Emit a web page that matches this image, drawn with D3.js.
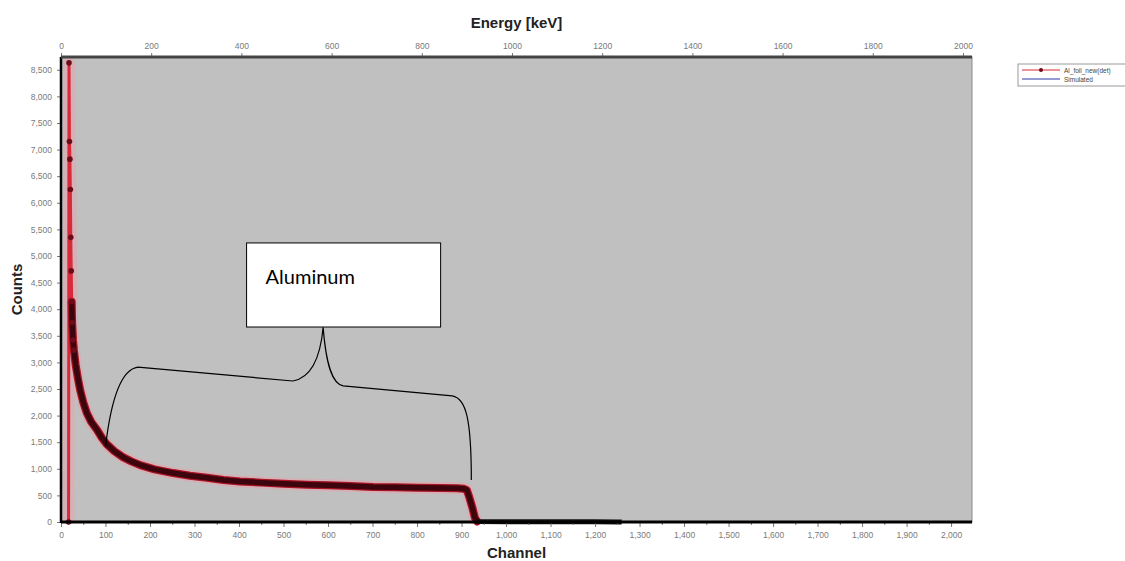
<!DOCTYPE html>
<html>
<head>
<meta charset="utf-8">
<script src="https://cdn.jsdelivr.net/npm/d3@7"></script>
<style>
  body { margin: 0; background: #fff; }
  svg { display: block; }
  .tick text { font-family: "Liberation Sans", Arial, sans-serif; font-size: 8.5px; fill: #7a7a7a; }
  .title { font-family: "Liberation Sans", Arial, sans-serif; font-weight: bold; font-size: 15px; fill: #222; }
</style>
</head>
<body>
<svg id="chart" width="1125" height="561"></svg>
<script>
var channels = [0, 17, 18, 19, 20, 21, 22, 23, 24, 25, 27, 29, 33, 38, 43, 50, 58, 68, 81, 92,
  103, 120, 139, 158, 178, 210, 252, 290, 328, 365, 402, 450, 500, 553, 600, 650, 701, 750, 800, 852,
  890, 905, 912, 918, 925, 930, 935, 940, 1000, 1100, 1200, 1250, 1260, 2047];
var counts = [0, 0, 8630, 7150, 6820, 6250, 5350, 4720, 4140, 3750, 3420, 3230, 2950, 2700, 2480, 2250, 2050, 1880, 1730, 1580,
  1460, 1330, 1220, 1140, 1070, 990, 920, 870, 830, 790, 760, 740, 720, 700, 690, 675, 660, 655, 645, 640,
  635, 625, 600, 450, 250, 80, 10, 8, 6, 5, 4, 2, 0, 0];

var channelTicks = [0, 100, 200, 300, 400, 500, 600, 700, 800, 900, 1000, 1100, 1200, 1300, 1400, 1500, 1600, 1700, 1800, 1900, 2000];
var energyTicks = [0, 200, 400, 600, 800, 1000, 1200, 1400, 1600, 1800, 2000];
var countTicks = [0, 500, 1000, 1500, 2000, 2500, 3000, 3500, 4000, 4500, 5000, 5500, 6000, 6500, 7000, 7500, 8000, 8500];

var legendNames = ['Al_foil_new(det)', 'Simulated'];
var legendColors = ['#d92a3a', '#2a3aa8'];

// annotation bracket, in [channel, counts]
var bracketPts = [[100, 1410], [173, 2910], [521, 2650], [589, 3660], [634, 2560], [879, 2370], [922, 790]];
var boxCorners = [[417, 5245], [853, 3665]];
var boxLabel = 'Aluminum';

var svg = d3.select('#chart');
var plotLeft = 61, plotRight = 972, plotTop = 57, plotBottom = 522;

var x = d3.scaleLinear().domain([0, 2047]).range([plotLeft, plotRight]);
var xE = d3.scaleLinear().domain([0, 2020]).range([plotLeft, plotRight]);
var y = d3.scaleLinear().domain([0, 8740]).range([plotBottom, plotTop]);

// plot area
svg.append('rect')
   .attr('x', plotLeft).attr('y', plotTop)
   .attr('width', plotRight - plotLeft).attr('height', plotBottom - plotTop)
   .attr('fill', '#c0c0c0')
   .attr('stroke', '#8a8a8a').attr('stroke-width', 1);

var data = channels.map(function(c, i) { return {ch: c, v: counts[i]}; });

var line = d3.line()
    .x(function(d) { return x(d.ch); })
    .y(function(d) { return y(d.v); });

// red line with its soft halo (peak and continuum only)
var signal = data.filter(function(d) { return d.ch >= 17 && d.ch <= 935; });
svg.append('path').datum(signal)
   .attr('d', line).attr('fill', 'none')
   .attr('stroke', '#e7a2ac').attr('stroke-width', 12).attr('opacity', 0.5)
   .attr('stroke-linejoin', 'round');
svg.append('path').datum(signal)
   .attr('d', line).attr('fill', 'none')
   .attr('stroke', '#d92a3a').attr('stroke-width', 3)
   .attr('stroke-linejoin', 'round');

// dense band of overlapping markers along the continuum
var dense = data.filter(function(d) { return d.ch >= 24 && d.ch <= 935; });
svg.append('path').datum(dense)
   .attr('d', line).attr('fill', 'none')
   .attr('stroke', '#a81424').attr('stroke-width', 8)
   .attr('stroke-linejoin', 'round').attr('stroke-linecap', 'round');
svg.append('path').datum(dense)
   .attr('d', line).attr('fill', 'none')
   .attr('stroke', '#3c040c').attr('stroke-width', 5.5)
   .attr('stroke-linejoin', 'round').attr('stroke-linecap', 'round');

// near-zero tail: markers pile up on the axis
var tail = data.filter(function(d) { return d.ch >= 935 && d.ch <= 1260; });
svg.append('path').datum(tail)
   .attr('d', line).attr('fill', 'none')
   .attr('stroke', '#111').attr('stroke-width', 5);

svg.append('g').selectAll('circle')
   .data(data.filter(function(d) { return d.ch >= 17 && d.ch <= 30; }))
   .enter().append('circle')
   .attr('cx', function(d) { return x(d.ch); })
   .attr('cy', function(d) { return y(d.v); })
   .attr('r', 2.8)
   .attr('fill', '#6d0c18');

// axes
svg.append('g')
   .attr('transform', 'translate(0,' + plotBottom + ')')
   .call(d3.axisBottom(x).tickValues(channelTicks).tickFormat(d3.format(',')).tickSize(5).tickPadding(5));
svg.append('g')
   .attr('transform', 'translate(0,' + plotBottom + ')')
   .call(d3.axisBottom(x).tickValues(d3.range(50, 2047, 100)).tickFormat('').tickSize(3));

svg.append('g')
   .attr('transform', 'translate(0,' + plotTop + ')')
   .call(d3.axisTop(xE).tickValues(energyTicks).tickFormat(d3.format('d')).tickSize(4).tickPadding(4));

svg.append('g')
   .attr('transform', 'translate(' + plotLeft + ',0)')
   .call(d3.axisLeft(y).tickValues(countTicks).tickFormat(d3.format(',')).tickSize(4).tickPadding(5));

svg.selectAll('.domain').remove();
svg.selectAll('.tick line').attr('stroke', '#777');

// heavy frame lines
svg.append('line').attr('x1', plotLeft).attr('x2', plotRight).attr('y1', plotBottom).attr('y2', plotBottom)
   .attr('stroke', '#000').attr('stroke-width', 3);
svg.append('line').attr('x1', plotLeft).attr('x2', plotLeft).attr('y1', plotTop).attr('y2', plotBottom + 1)
   .attr('stroke', '#000').attr('stroke-width', 2.5);
svg.append('line').attr('x1', plotLeft).attr('x2', plotRight).attr('y1', plotTop).attr('y2', plotTop)
   .attr('stroke', '#444').attr('stroke-width', 3);

// axis titles
svg.append('text').attr('class', 'title')
   .attr('x', (plotLeft + plotRight) / 2).attr('y', 28).attr('text-anchor', 'middle')
   .text('Energy [keV]');
svg.append('text').attr('class', 'title')
   .attr('x', (plotLeft + plotRight) / 2).attr('y', 558).attr('text-anchor', 'middle')
   .text('Channel');
svg.append('text').attr('class', 'title')
   .attr('transform', 'translate(22,' + (plotTop + plotBottom) / 2 + ') rotate(-90)')
   .attr('text-anchor', 'middle')
   .text('Counts');

// legend
var lg = svg.append('g').attr('transform', 'translate(1018,64)');
lg.append('rect').attr('width', 112).attr('height', 22)
  .attr('fill', '#fff').attr('stroke', '#9a9a9a');
legendNames.forEach(function(name, i) {
  var row = lg.append('g').attr('transform', 'translate(0,' + (6 + i * 9) + ')');
  row.append('line').attr('x1', 4).attr('x2', 42).attr('y1', 0).attr('y2', 0)
     .attr('stroke', legendColors[i]).attr('stroke-width', 1.2);
  if (i === 0) {
    row.append('circle').attr('cx', 23).attr('cy', 0).attr('r', 2).attr('fill', '#6d0c18');
  }
  row.append('text').attr('x', 46).attr('y', 2.5)
     .attr('font-family', 'Liberation Sans, Arial, sans-serif').attr('font-size', 6.5)
     .attr('fill', '#444').text(name);
});

// annotation box + curly bracket
var bx0 = x(boxCorners[0][0]), by0 = y(boxCorners[0][1]);
var bx1 = x(boxCorners[1][0]), by1 = y(boxCorners[1][1]);
svg.append('rect')
   .attr('x', bx0).attr('y', by0).attr('width', bx1 - bx0).attr('height', by1 - by0)
   .attr('fill', '#fff').attr('stroke', '#000').attr('stroke-width', 1);
svg.append('text')
   .attr('x', bx0 + 19).attr('y', by0 + 41)
   .attr('font-family', 'Lato, "Open Sans", sans-serif').attr('font-size', 20)
   .attr('fill', '#000').text(boxLabel);

var p = bracketPts.map(function(d) { return [x(d[0]), y(d[1])]; });
var path = d3.path();
path.moveTo(p[0][0], p[0][1]);
path.bezierCurveTo(p[0][0] + 6, p[0][1] - 52, p[1][0] - 16, p[1][1] + 2, p[1][0], p[1][1]);
path.lineTo(p[2][0], p[2][1]);
path.bezierCurveTo(p[2][0] + 17, p[2][1] - 3, p[3][0] - 3, p[3][1] + 33, p[3][0], p[3][1]);
path.bezierCurveTo(p[3][0] + 3, p[3][1] + 38, p[4][0] - 11, p[4][1] - 2, p[4][0], p[4][1]);
path.lineTo(p[5][0], p[5][1]);
path.bezierCurveTo(p[5][0] + 14, p[5][1] + 2, p[6][0], p[6][1] - 60, p[6][0], p[6][1]);
svg.append('path').attr('d', path.toString())
   .attr('fill', 'none').attr('stroke', '#000').attr('stroke-width', 1.2);
</script>
</body>
</html>
